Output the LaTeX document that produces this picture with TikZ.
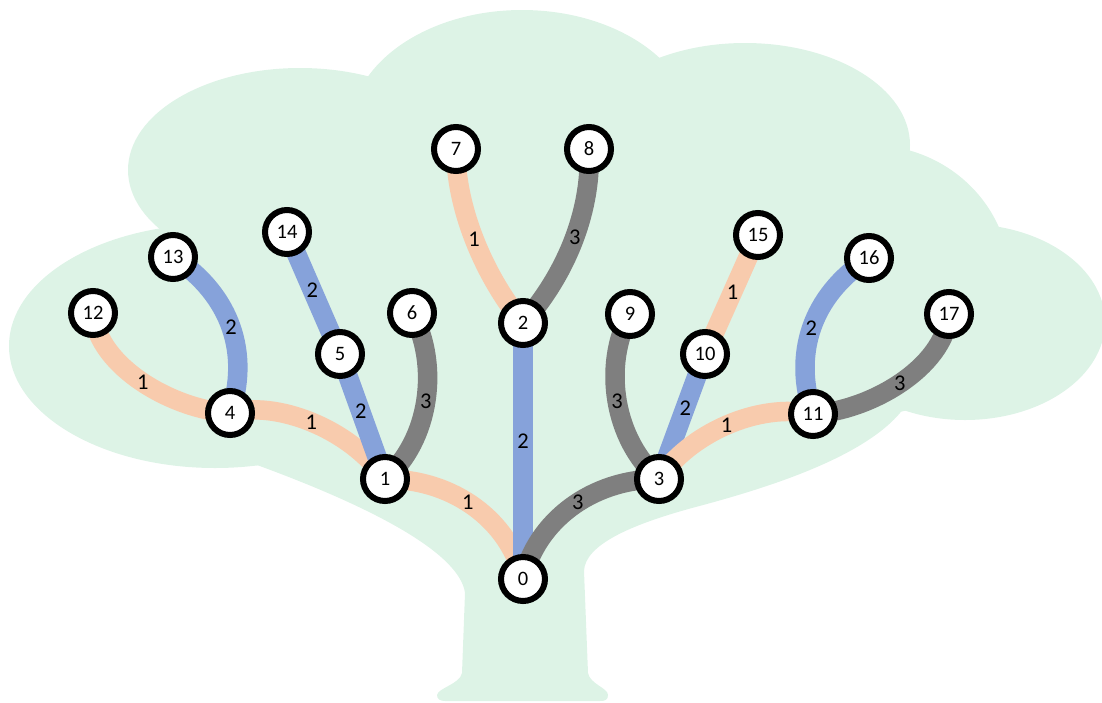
\documentclass[tikz,border=0pt]{standalone}
\usepackage{fontspec}
\setmainfont{Carlito}
\definecolor{treeg}{HTML}{DDF3E6}
\definecolor{peach}{HTML}{F8CBAD}
\definecolor{eblue}{HTML}{86A2DA}
\definecolor{egray}{HTML}{7F7F7F}
\pgfdeclarelayer{bg}
\pgfdeclarelayer{edges}
\pgfsetlayers{bg,edges,main}
\begin{document}
\begin{tikzpicture}[x=1pt,y=-1pt,
  vtx/.style={circle,draw=black,line width=6pt,fill=white,minimum size=44pt,inner sep=0pt,font=\fontsize{20.5}{24}\selectfont},
  elab/.style={font=\fontsize{22.5}{26}\selectfont,inner sep=0pt,text=black},
  ep/.style={draw=peach,line width=19.5pt},
  eb/.style={draw=eblue,line width=19.5pt},
  eg/.style={draw=egray,line width=19.5pt}]
\useasboundingbox (0,0) rectangle (1102,702);

% tree
\begin{pgfonlayer}{bg}
\fill[treeg] (215,346) ellipse [x radius=206pt, y radius=122pt];
\fill[treeg] (300,170) ellipse [x radius=172pt, y radius=102pt];
\fill[treeg] (522,130) ellipse [x radius=172pt, y radius=120pt];
\fill[treeg] (745,145) ellipse [x radius=165pt, y radius=102pt];
\fill[treeg] (870,280) ellipse [x radius=140pt, y radius=135pt];
\fill[treeg] (965,322) ellipse [x radius=140pt, y radius=98pt];
\fill[treeg] (900,413) .. controls (860,460) and (760,490) .. (692,508)
  .. controls (630,525) and (585,545) .. (584,571) -- (588,673)
  .. controls (590,684) and (608,688) .. (608,695)
  .. controls (608,700) and (605,701) .. (600,701) -- (445,701)
  .. controls (440,701) and (437,699) .. (437,695)
  .. controls (438,688) and (460,684) .. (462,673) -- (465,593)
  .. controls (460,555) and (380,510) .. (257,465)
  -- (215,346) -- (300,170) -- (522,130) -- (745,145) -- (870,280) -- (965,322) -- cycle;
\end{pgfonlayer}

% vertices
\node[vtx] (n0) at (523,579) {0};
\node[vtx] (n1) at (385,479) {1};
\node[vtx] (n2) at (523,323) {2};
\node[vtx] (n3) at (659,479) {3};
\node[vtx] (n4) at (230,413) {4};
\node[vtx] (n5) at (340,354) {5};
\node[vtx] (n6) at (412,313) {6};
\node[vtx] (n7) at (456,149) {7};
\node[vtx] (n8) at (589,149) {8};
\node[vtx] (n9) at (630,314) {9};
\node[vtx] (n10) at (705,354) {10};
\node[vtx] (n11) at (813,414) {11};
\node[vtx] (n12) at (93,313) {12};
\node[vtx] (n13) at (173,257) {13};
\node[vtx] (n14) at (287,232) {14};
\node[vtx] (n15) at (758,235) {15};
\node[vtx] (n16) at (869,258) {16};
\node[vtx] (n17) at (949,314) {17};

% edges
\begin{pgfonlayer}{edges}
\draw[ep] (n0.center) .. controls (510,522) and (455,479) .. node[elab,pos=0.55]{1} (n1.center);
\draw[eb] (n0.center) -- node[elab,pos=0.54]{2} (n2.center);
\draw[eg] (n0.center) .. controls (536,522) and (591,479) .. node[elab,pos=0.55]{3} (n3.center);
\draw[ep] (n1.center) .. controls (350,428) and (275,400) .. node[elab,pos=0.5]{1} (n4.center);
\draw[eb] (n1.center) -- node[elab,pos=0.54]{2} (n5.center);
\draw[eg] (n1.center) .. controls (430,440) and (440,365) .. node[elab,pos=0.5]{3} (n6.center);
\draw[ep] (n2.center) .. controls (483,275) and (455,205) .. node[elab,pos=0.5]{1} (n7.center);
\draw[eg] (n2.center) .. controls (570,270) and (592,205) .. node[elab,pos=0.5]{3} (n8.center);
\draw[eg] (n3.center) .. controls (614,440) and (602,366) .. node[elab,pos=0.5]{3} (n9.center);
\draw[eb] (n3.center) -- node[elab,pos=0.57]{2} (n10.center);
\draw[ep] (n3.center) .. controls (689,434) and (758,402) .. node[elab,pos=0.5]{1} (n11.center);
\draw[ep] (n4.center) .. controls (175,410) and (98,368) .. node[elab,pos=0.5]{1} (n12.center);
\draw[eb] (n4.center) .. controls (250,355) and (232,295) .. node[elab,pos=0.5]{2} (n13.center);
\draw[eb] (n5.center) -- node[elab,pos=0.52]{2} (n14.center);
\draw[ep] (n10.center) -- node[elab,pos=0.52]{1} (n15.center);
\draw[eb] (n11.center) .. controls (793,356) and (810,296) .. node[elab,pos=0.5]{2} (n16.center);
\draw[eg] (n11.center) .. controls (868,411) and (944,369) .. node[elab,pos=0.5]{3} (n17.center);
\end{pgfonlayer}
\end{tikzpicture}
\end{document}
